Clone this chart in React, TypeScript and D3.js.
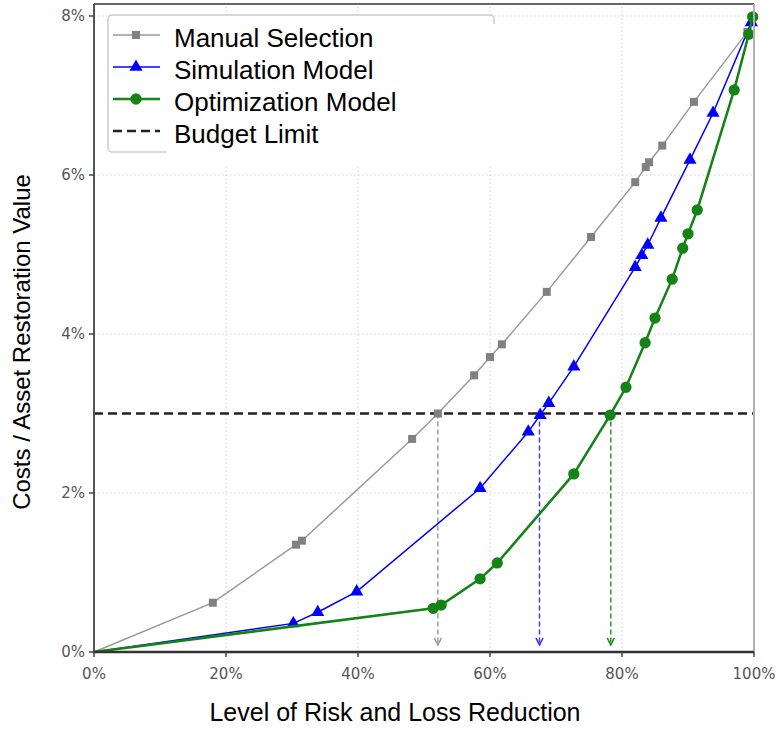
import React from "react";
import * as d3 from "d3";

const width = 780;
const height = 729;
const x0 = 94, x1 = 754, y0 = 652, y1 = 16;

// percent reduction (x) and cost share in % (y)
const manualX = [0, 18.0, 30.6, 31.5, 48.2, 52.1, 57.6, 60.0, 61.8, 68.6, 75.3, 82.0, 83.6, 84.1, 86.1, 90.9, 99.0];
const manualY = [0, 0.62, 1.35, 1.4, 2.68, 3.0, 3.48, 3.71, 3.87, 4.53, 5.22, 5.91, 6.1, 6.16, 6.37, 6.92, 7.8];

const simX = [0, 30.2, 33.9, 39.8, 58.5, 65.8, 67.6, 68.9, 72.7, 82.0, 83.0, 83.9, 85.9, 90.3, 93.8, 99.6];
const simY = [0, 0.36, 0.5, 0.76, 2.06, 2.77, 2.98, 3.13, 3.59, 4.84, 4.99, 5.12, 5.46, 6.19, 6.78, 7.92];

const optX = [0, 51.4, 52.6, 58.5, 61.1, 72.7, 78.2, 80.6, 83.5, 85.0, 87.6, 89.2, 90.0, 91.4, 97.0, 99.2, 99.8];
const optY = [0, 0.55, 0.59, 0.92, 1.12, 2.24, 2.98, 3.33, 3.89, 4.2, 4.69, 5.08, 5.26, 5.56, 7.07, 7.77, 7.99];

const budget = 3;
const arrowX = [52.1, 67.5, 78.3];
const arrowColors = ["#999999", "#3333ff", "#1a8a1a"];

const xTicks = [0, 20, 40, 60, 80, 100];
const yTicks = [0, 2, 4, 6, 8];

const seriesNames = ["Manual Selection", "Simulation Model", "Optimization Model", "Budget Limit"];

const xScale = d3.scaleLinear().domain([0, 100]).range([x0, x1]);
const yScale = d3.scaleLinear().domain([0, 8]).range([y0, y1]);

const line = d3.line<[number, number]>()
  .x(d => xScale(d[0]))
  .y(d => yScale(d[1]));

const zip = (xs: number[], ys: number[]) => xs.map((v, i) => [v, ys[i]] as [number, number]);

const series = [
  { name: seriesNames[0], pts: zip(manualX, manualY), color: "#9a9a9a", mcolor: "#808080", lw: 1.5, sym: d3.symbolSquare, size: 64 },
  { name: seriesNames[1], pts: zip(simX, simY), color: "#0000ff", mcolor: "#0000ff", lw: 1.5, sym: d3.symbolTriangle, size: 75 },
  { name: seriesNames[2], pts: zip(optX, optY), color: "#148214", mcolor: "#148214", lw: 2.5, sym: d3.symbolCircle, size: 100 },
];

const tickFont = "'DejaVu Sans', Verdana, sans-serif";
const labelFont = "'Liberation Sans', Arial, sans-serif";

export default function App() {
  const yb = yScale(budget);
  return (
    <svg width={width} height={height} style={{ position: "absolute", left: 0, top: 0, background: "#fff" }}>
      {/* grid */}
      {xTicks.filter(t => t > 0 && t < 100).map(t => (
        <line key={"gx" + t} x1={xScale(t)} x2={xScale(t)} y1={y0} y2={y1 - 10}
          stroke="#d0d0d0" strokeWidth={1} strokeDasharray="1.5,2.5" />
      ))}
      {yTicks.filter(t => t > 0).map(t => (
        <line key={"gy" + t} x1={x0} x2={x1} y1={yScale(t)} y2={yScale(t)}
          stroke="#d0d0d0" strokeWidth={1} strokeDasharray="1.5,2.5" />
      ))}

      {/* drop arrows */}
      {arrowX.map((v, i) => {
        const x = xScale(v);
        const tip = y0 - 7;
        return (
          <g key={"ar" + i} stroke={arrowColors[i]} fill="none" strokeWidth={1.4}>
            <line x1={x} x2={x} y1={yb} y2={tip} strokeDasharray="5,3" />
            <path d={`M${x - 3.5},${tip - 7} L${x},${tip} L${x + 3.5},${tip - 7}`} strokeWidth={1.6} />
          </g>
        );
      })}

      {/* budget limit */}
      <line x1={x0} x2={x1} y1={yb} y2={yb} stroke="#222" strokeWidth={2.5} strokeDasharray="9,5" />

      {/* series */}
      {series.map(s => (
        <g key={s.name}>
          <path d={line(s.pts) || ""} fill="none" stroke={s.color} strokeWidth={s.lw} />
          {s.pts.slice(1).map((p, i) => (
            <path key={i} transform={`translate(${xScale(p[0])},${yScale(p[1])})`}
              d={d3.symbol().type(s.sym).size(s.size)() || ""} fill={s.mcolor} />
          ))}
        </g>
      ))}

      {/* legend */}
      <rect x={108} y={15} width={386} height={137} rx={4} fill="#fff" stroke="#cccccc" strokeWidth={1.5} />
      <rect x={166} y={24} width={340} height={140} fill="#fff" />
      {seriesNames.map((n, i) => {
        const ry = 35 + i * 32;
        const s = series[i];
        return (
          <g key={"lg" + n}>
            {s ? (
              <>
                <line x1={113} x2={160} y1={ry} y2={ry} stroke={s.color} strokeWidth={s.lw} />
                <path transform={`translate(136,${ry})`} d={d3.symbol().type(s.sym).size(s.size)() || ""} fill={s.mcolor} />
              </>
            ) : (
              <line x1={113} x2={160} y1={ry} y2={ry} stroke="#222" strokeWidth={2.5} strokeDasharray="9,5" />
            )}
            <text x={174} y={ry + 12} fontFamily={labelFont} fontSize={26} fill="#000">{n}</text>
          </g>
        );
      })}

      {/* spines */}
      <line x1={x0} x2={x1} y1={y1 - 12} y2={y1 - 12} stroke="#666" strokeWidth={2} />
      <line x1={x1} x2={x1} y1={y1 - 12} y2={y0} stroke="#b0b0b0" strokeWidth={2} />
      <line x1={x0} x2={x0} y1={y1 - 12} y2={y0} stroke="#555" strokeWidth={2} />
      <line x1={x0 - 1} x2={x1} y1={y0} y2={y0} stroke="#333" strokeWidth={2.5} />

      {/* ticks */}
      {xTicks.map(t => (
        <g key={"tx" + t}>
          <line x1={xScale(t)} x2={xScale(t)} y1={y0} y2={y0 + 5} stroke="#444" strokeWidth={1.5} />
          <text x={xScale(t)} y={y0 + 27} textAnchor="middle" fontFamily={tickFont} fontSize={15} fill="#555">{t}%</text>
        </g>
      ))}
      {yTicks.map(t => (
        <g key={"ty" + t}>
          <line x1={x0 - 5} x2={x0} y1={yScale(t)} y2={yScale(t)} stroke="#444" strokeWidth={1.5} />
          <text x={x0 - 9} y={yScale(t) + 5} textAnchor="end" fontFamily={tickFont} fontSize={15} fill="#555">{t}%</text>
        </g>
      ))}

      {/* axis titles */}
      <text x={395} y={721} textAnchor="middle" fontFamily={labelFont} fontSize={25} fill="#000">Level of Risk and Loss Reduction</text>
      <text transform="translate(30,342) rotate(-90)" textAnchor="middle" fontFamily={labelFont} fontSize={24} fill="#000">Costs / Asset Restoration Value</text>
    </svg>
  );
}
